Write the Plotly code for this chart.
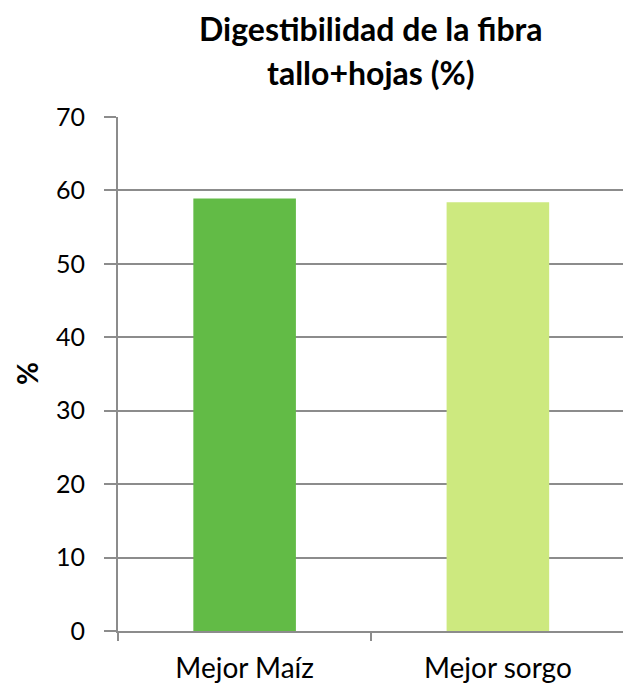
import plotly.graph_objects as go

categories = ["Mejor Maíz", "Mejor sorgo"]
values = [58.9, 58.4]
bar_colors = ["#62BB46", "#CDE97F"]
y_ticks = [0, 10, 20, 30, 40, 50, 60, 70]
title_lines = ["Digestibilidad de la fibra", "tallo+hojas (%)"]
y_title = "%"

GRAY = "#8C8C8C"
FONT = "Lato"

fig = go.Figure(
    go.Bar(
        x=categories,
        y=values,
        marker=dict(color=bar_colors, line=dict(width=0)),
        width=0.405,
    )
)

annotations = []
for line, shift in zip(title_lines, [89, 45]):
    annotations.append(
        dict(
            text="<b>" + line + "</b>",
            xref="paper",
            yref="paper",
            x=0.5,
            y=1,
            xanchor="center",
            yanchor="middle",
            yshift=shift,
            showarrow=False,
            font=dict(family=FONT, size=32, color="#000000"),
        )
    )
annotations.append(
    dict(
        text="<b>" + y_title + "</b>",
        xref="paper",
        yref="paper",
        x=0,
        y=0.5,
        xshift=-91,
        xanchor="center",
        yanchor="middle",
        textangle=-90,
        showarrow=False,
        font=dict(family=FONT, size=28, color="#000000"),
    )
)

fig.update_layout(
    width=623,
    height=684,
    margin=dict(l=118, r=0, t=117, b=53),
    paper_bgcolor="white",
    plot_bgcolor="white",
    showlegend=False,
    font=dict(family=FONT, color="#000000"),
    annotations=annotations,
)

fig.update_yaxes(
    range=[0, 70],
    tickvals=y_ticks,
    showgrid=True,
    gridcolor=GRAY,
    gridwidth=2,
    showline=True,
    linecolor=GRAY,
    linewidth=2,
    ticks="outside",
    ticklen=12,
    tickwidth=2,
    tickcolor=GRAY,
    ticklabelstandoff=14,
    tickfont=dict(family=FONT, size=25, color="#000000"),
    zeroline=False,
)

fig.update_xaxes(
    range=[-0.5, 1.494],
    showline=True,
    linecolor=GRAY,
    linewidth=2,
    ticks="outside",
    tickson="boundaries",
    ticklen=8,
    tickwidth=2,
    tickcolor=GRAY,
    ticklabelstandoff=11,
    tickfont=dict(family=FONT, size=28, color="#000000"),
    showgrid=False,
)

fig.write_html("out.html")
